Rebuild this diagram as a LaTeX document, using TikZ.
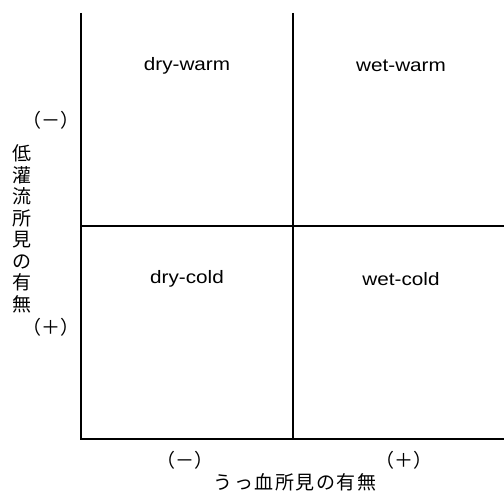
\documentclass[tikz,border=0pt]{standalone}
\usepackage{fontspec}
\setmainfont{Liberation Sans}
\newfontfamily\jpfont{Noto Sans CJK JP}
\begin{document}
\begin{tikzpicture}[x=1pt,y=-1pt,
  gridline/.style={line width=1.1pt,black},
  quad/.style={inner sep=0pt,font=\fontsize{18}{18}\selectfont},
  sign/.style={inner sep=0pt,font=\jpfont\fontsize{19}{19}\selectfont},
  jp/.style={inner sep=0pt,font=\jpfont\fontsize{19}{19}\selectfont}]
\useasboundingbox (0,0) rectangle (504,492);
% grid
\coordinate (tl) at (81,13);
\coordinate (tm) at (293,13);
\coordinate (ml) at (81,226);
\coordinate (mr) at (504,226);
\coordinate (bl) at (81,439);
\coordinate (bm) at (293,439);
\coordinate (br) at (504,439);
\draw[gridline] (tl) -- (bl) -- (br);
\draw[gridline] (tm) -- (bm);
\draw[gridline] (ml) -- (mr);
% quadrant labels
\node[quad] (dw) at (187,66) {\scalebox{1.15}[1]{dry-warm}};
\node[quad] (ww) at (401,66) {\scalebox{1.15}[1]{wet-warm}};
\node[quad] (dc) at (187,279) {\scalebox{1.15}[1]{dry-cold}};
\node[quad] (wc) at (401,279) {\scalebox{1.15}[1]{wet-cold}};
% left axis
\node[sign] (lm) at (51,120) {（－）};
\node[sign] (lp) at (51,327) {（＋）};
\node[jp,align=center,font=\jpfont\fontsize{19}{21.5}\selectfont] (ly) at (22,229)
  {低\\灌\\流\\所\\見\\の\\有\\無};
% bottom axis
\node[sign] (bmn) at (185,460) {（－）};
\node[sign] (bpl) at (404,460) {（＋）};
\node[jp] (bx) at (295,482) {\addfontfeature{LetterSpace=8}うっ血所見の有無};
\end{tikzpicture}
\end{document}
